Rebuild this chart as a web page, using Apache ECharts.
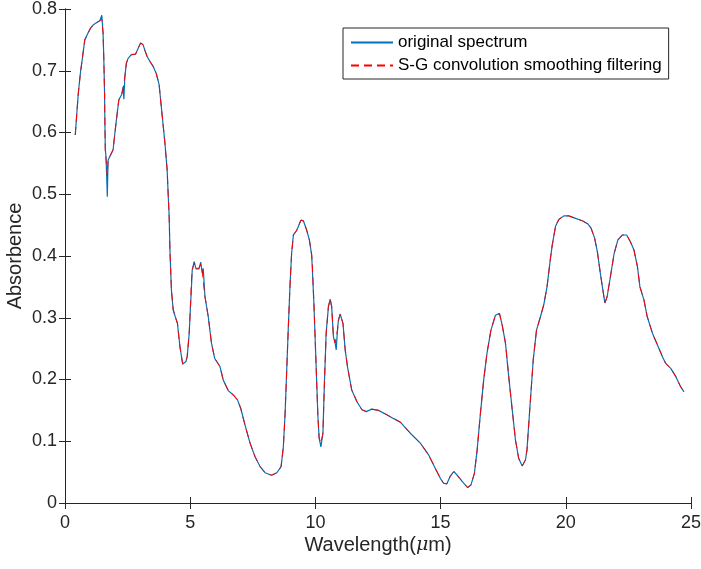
<!DOCTYPE html>
<html>
<head>
<meta charset="utf-8">
<script src="https://cdn.jsdelivr.net/npm/echarts@6/dist/echarts.min.js"></script>
<style>html,body{margin:0;padding:0;background:#fff}#c{width:701px;height:569px}</style>
</head>
<body>
<div id="c"></div>
<script>
var wavelength = [0.41,0.47,0.53,0.62,0.71,0.79,0.92,1.02,1.12,1.27,1.39,1.44,1.47,1.52,1.55,1.58,1.59,1.61,1.64,1.69,1.72,1.79,1.92,2.02,2.15,2.26,2.32,2.35,2.39,2.45,2.52,2.65,2.82,2.94,3.02,3.12,3.19,3.28,3.41,3.52,3.65,3.76,3.86,3.99,4.08,4.12,4.16,4.19,4.25,4.32,4.40,4.49,4.59,4.70,4.83,4.88,4.96,5.01,5.04,5.08,5.16,5.23,5.35,5.42,5.48,5.52,5.59,5.72,5.85,5.98,6.19,6.32,6.52,6.72,6.89,7.02,7.19,7.39,7.59,7.79,7.99,8.25,8.46,8.63,8.72,8.79,8.86,8.92,8.99,9.05,9.12,9.26,9.42,9.52,9.65,9.76,9.85,9.88,9.94,10.02,10.10,10.15,10.22,10.30,10.36,10.43,10.52,10.59,10.65,10.72,10.79,10.83,10.89,10.92,10.99,11.10,11.19,11.28,11.45,11.66,11.86,12.03,12.25,12.52,12.85,13.11,13.39,13.79,14.19,14.52,14.79,14.99,15.12,15.25,15.38,15.53,15.66,15.86,16.08,16.21,16.35,16.46,16.59,16.72,16.85,17.01,17.19,17.35,17.46,17.59,17.72,17.86,17.99,18.12,18.26,18.39,18.45,18.56,18.70,18.83,18.99,19.12,19.25,19.38,19.46,19.59,19.72,19.92,20.12,20.39,20.66,20.88,21.01,21.15,21.26,21.39,21.50,21.56,21.65,21.78,21.93,22.08,22.26,22.43,22.58,22.72,22.86,22.96,23.12,23.25,23.46,23.66,23.86,23.99,24.19,24.39,24.59,24.72];
var original = [0.596,0.630,0.663,0.698,0.725,0.750,0.761,0.769,0.774,0.778,0.781,0.784,0.790,0.761,0.720,0.663,0.626,0.572,0.560,0.496,0.555,0.558,0.572,0.609,0.653,0.661,0.674,0.654,0.690,0.712,0.720,0.726,0.727,0.738,0.745,0.742,0.733,0.723,0.714,0.707,0.695,0.677,0.636,0.583,0.539,0.500,0.464,0.410,0.345,0.313,0.302,0.291,0.253,0.225,0.229,0.237,0.275,0.318,0.340,0.377,0.391,0.379,0.379,0.390,0.372,0.380,0.334,0.302,0.259,0.234,0.221,0.199,0.182,0.175,0.167,0.153,0.126,0.097,0.075,0.059,0.049,0.045,0.049,0.059,0.091,0.145,0.221,0.286,0.356,0.404,0.434,0.442,0.458,0.457,0.442,0.426,0.402,0.377,0.323,0.232,0.140,0.105,0.091,0.113,0.194,0.275,0.318,0.330,0.318,0.269,0.259,0.248,0.285,0.296,0.306,0.291,0.248,0.221,0.183,0.164,0.151,0.148,0.152,0.150,0.143,0.137,0.131,0.113,0.097,0.078,0.056,0.040,0.032,0.031,0.043,0.051,0.045,0.035,0.025,0.029,0.048,0.086,0.145,0.199,0.242,0.280,0.304,0.307,0.288,0.259,0.205,0.151,0.102,0.072,0.060,0.070,0.086,0.151,0.232,0.280,0.302,0.321,0.350,0.394,0.418,0.448,0.459,0.465,0.465,0.461,0.457,0.452,0.445,0.429,0.407,0.369,0.340,0.324,0.334,0.366,0.404,0.426,0.434,0.434,0.423,0.410,0.383,0.350,0.329,0.302,0.275,0.256,0.237,0.226,0.218,0.205,0.188,0.180];
var smoothed = [0.596,0.630,0.663,0.698,0.725,0.750,0.761,0.769,0.774,0.778,0.781,0.783,0.783,0.761,0.720,0.663,0.626,0.572,0.555,0.530,0.555,0.558,0.572,0.609,0.653,0.661,0.670,0.668,0.690,0.712,0.720,0.726,0.727,0.738,0.745,0.742,0.733,0.723,0.714,0.707,0.695,0.677,0.636,0.583,0.539,0.500,0.464,0.410,0.345,0.313,0.302,0.291,0.253,0.225,0.229,0.237,0.275,0.318,0.352,0.377,0.389,0.380,0.380,0.387,0.376,0.376,0.334,0.302,0.259,0.234,0.221,0.199,0.182,0.175,0.167,0.153,0.126,0.097,0.075,0.059,0.049,0.045,0.049,0.059,0.091,0.145,0.221,0.286,0.356,0.404,0.434,0.442,0.458,0.457,0.442,0.426,0.402,0.385,0.323,0.232,0.140,0.105,0.097,0.113,0.194,0.275,0.318,0.330,0.318,0.269,0.259,0.257,0.282,0.296,0.306,0.291,0.248,0.221,0.183,0.164,0.151,0.148,0.152,0.150,0.143,0.137,0.131,0.113,0.097,0.078,0.056,0.040,0.032,0.031,0.043,0.051,0.045,0.035,0.025,0.029,0.048,0.086,0.145,0.199,0.242,0.280,0.304,0.307,0.288,0.259,0.205,0.151,0.102,0.072,0.060,0.070,0.086,0.151,0.232,0.280,0.302,0.321,0.350,0.394,0.418,0.448,0.459,0.465,0.465,0.461,0.457,0.452,0.445,0.429,0.407,0.369,0.340,0.324,0.334,0.366,0.404,0.426,0.434,0.434,0.423,0.410,0.383,0.350,0.329,0.302,0.275,0.256,0.237,0.226,0.218,0.205,0.188,0.180];
var xTicks = [0,5,10,15,20,25];
var yTicks = [0,0.1,0.2,0.3,0.4,0.5,0.6,0.7,0.8];
var seriesNames = ['original spectrum','S-G convolution smoothing filtering'];

function pairs(xs, ys){ return xs.map(function(x,i){ return [x, ys[i]]; }); }

var FONT = '"Liberation Sans", Arial, sans-serif';
var AX = '#262626';
var axisCommon = {
  axisLine:{show:true, lineStyle:{color:AX, width:1}},
  axisTick:{show:true, inside:true, length:6, lineStyle:{color:AX, width:1}},
  splitLine:{show:false}
};
var chart = echarts.init(document.getElementById('c'), null, {renderer:'canvas'});
chart.setOption({
  animation:false,
  backgroundColor:'#ffffff',
  grid:{left:65, right:10, top:9, bottom:66, containLabel:false, outerBoundsMode:'none'},
  legend:{
    orient:'vertical', left:343, top:28,
    data:seriesNames,
    borderColor:AX, borderWidth:1, backgroundColor:'#fff',
    padding:[6,7,5,7], itemGap:6, itemWidth:42, itemHeight:10,
    itemStyle:{opacity:0},
    textStyle:{fontFamily:FONT, fontSize:17, color:'#000'}
  },
  xAxis:[
    Object.assign({type:'value', min:0, max:25, interval:5, position:'bottom',
      name:'Wavelength({mu|μ}m)', nameLocation:'middle', nameGap:42, nameMoveOverlap:false,
      nameTextStyle:{fontFamily:FONT, fontSize:20, color:AX, verticalAlign:'middle',
        rich:{mu:{fontFamily:'"DejaVu Serif", "Liberation Serif", serif', fontStyle:'italic', fontSize:19, color:AX}}},
      axisLabel:{fontFamily:FONT, fontSize:18, color:AX, margin:11,
        formatter:function(v){ return xTicks.indexOf(v)>=0 ? String(v) : ''; }}
    }, axisCommon),
    Object.assign({type:'value', min:0, max:25, interval:5, position:'top', axisLabel:{show:false}}, axisCommon)
  ],
  yAxis:[
    Object.assign({type:'value', min:0, max:0.8, interval:0.1, position:'left',
      name:'Absorbence', nameLocation:'middle', nameGap:50, nameMoveOverlap:false,
      nameTextStyle:{fontFamily:FONT, fontSize:20, color:AX, verticalAlign:'middle'},
      axisLabel:{fontFamily:FONT, fontSize:18, color:AX, margin:8,
        formatter:function(v){ var r=Math.round(v*10)/10; return yTicks.indexOf(r)>=0 ? (r===0?'0':r.toFixed(1)) : ''; }}
    }, axisCommon),
    Object.assign({type:'value', min:0, max:0.8, interval:0.1, position:'right', axisLabel:{show:false}}, axisCommon)
  ],
  series:[
    {name:seriesNames[0], type:'line', showSymbol:false, symbol:'none', data:pairs(wavelength, original),
      lineStyle:{color:'#0072BD', width:1.2}, itemStyle:{color:'#0072BD'}},
    {name:seriesNames[1], type:'line', showSymbol:false, symbol:'none', data:pairs(wavelength, smoothed),
      lineStyle:{color:'#FF0000', width:1, type:[8,5]}, itemStyle:{color:'#FF0000'}}
  ]
});
</script>
</body>
</html>
